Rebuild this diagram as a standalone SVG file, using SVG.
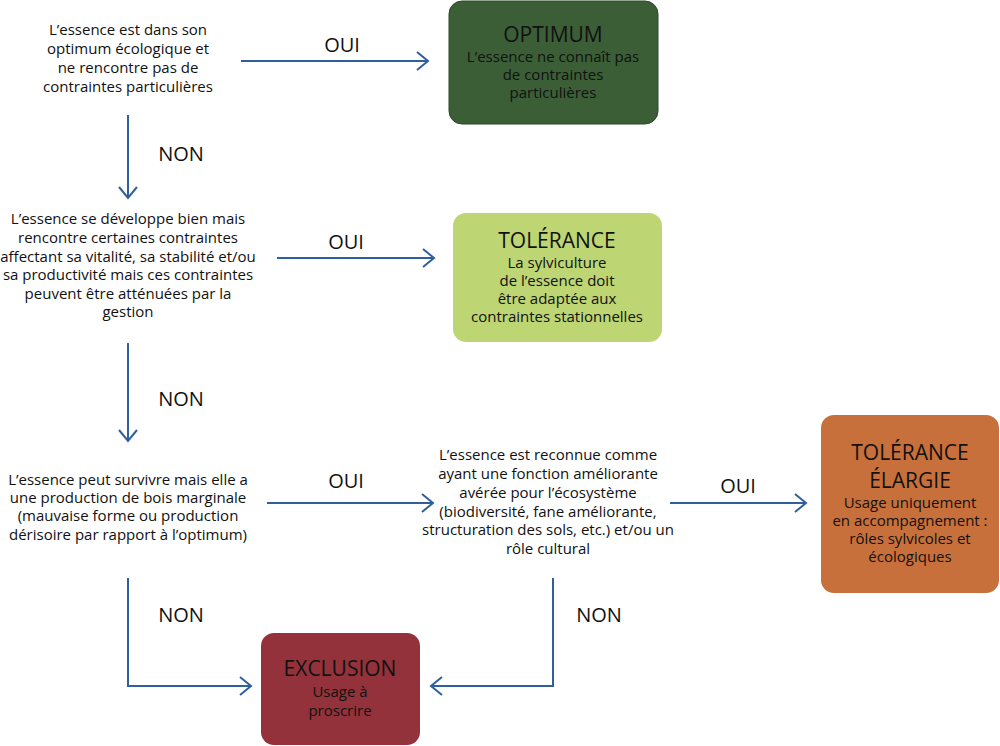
<svg xmlns="http://www.w3.org/2000/svg" width="1000" height="746" viewBox="0 0 1000 746">
<defs>
<marker id="arr" markerUnits="userSpaceOnUse" markerWidth="16" markerHeight="20" refX="12" refY="10" orient="auto">
<path d="M1,1 L12,10 L1,19" fill="none" stroke="#2f609c" stroke-width="2"/>
</marker>
<style>
text{font-family:"Open Sans","Noto Sans","Liberation Sans",sans-serif;fill:#111;text-anchor:middle}
.q{font-size:15px}
.lbl{font-size:20px}
.t{font-size:21px}
.s{font-size:15px}
.c{fill:none;stroke:#2f609c;stroke-width:2;marker-end:url(#arr)}
</style>
</defs>
<rect width="1000" height="746" fill="#fff"/>
<g id="q1">
<text class="q" x="128" y="35">L’essence est dans son</text>
<text class="q" x="128" y="54">optimum écologique et</text>
<text class="q" x="128" y="73">ne rencontre pas de</text>
<text class="q" x="128" y="92">contraintes particulières</text>
</g>
<g id="optimum">
<rect x="449" y="1" width="209" height="123" rx="13" fill="#3b5e36" stroke="#2c4a28" stroke-width="1"/>
<text class="t" x="553" y="42">OPTIMUM</text>
<text class="s" x="553" y="62">L’essence ne connaît pas</text>
<text class="s" x="553" y="80">de contraintes</text>
<text class="s" x="553" y="98">particulières</text>
</g>
<g id="q2">
<text class="q" x="128" y="224">L’essence se développe bien mais</text>
<text class="q" x="128" y="243">rencontre certaines contraintes</text>
<text class="q" x="128" y="262">affectant sa vitalité, sa stabilité et/ou</text>
<text class="q" x="128" y="280">sa productivité mais ces contraintes</text>
<text class="q" x="128" y="299">peuvent être atténuées par la</text>
<text class="q" x="128" y="317">gestion</text>
</g>
<g id="tolerance">
<rect x="453" y="213" width="209" height="129" rx="13" fill="#bed574"/>
<text class="t" x="557" y="248">TOLÉRANCE</text>
<text class="s" x="557" y="268">La sylviculture</text>
<text class="s" x="557" y="286">de l’essence doit</text>
<text class="s" x="557" y="304">être adaptée aux</text>
<text class="s" x="557" y="322">contraintes stationnelles</text>
</g>
<g id="q3">
<text class="q" x="128" y="485">L’essence peut survivre mais elle a</text>
<text class="q" x="128" y="503">une production de bois marginale</text>
<text class="q" x="128" y="521">(mauvaise forme ou production</text>
<text class="q" x="128" y="540">dérisoire par rapport à l’optimum)</text>
</g>
<g id="q4">
<text class="q" x="548" y="460">L’essence est reconnue comme</text>
<text class="q" x="548" y="479">ayant une fonction améliorante</text>
<text class="q" x="548" y="498">avérée pour l’écosystème</text>
<text class="q" x="548" y="517">(biodiversité, fane améliorante,</text>
<text class="q" x="548" y="535">structuration des sols, etc.) et/ou un</text>
<text class="q" x="548" y="554">rôle cultural</text>
</g>
<g id="elargie">
<rect x="821" y="415" width="178" height="178" rx="13" fill="#c8703b"/>
<text class="t" x="910" y="460">TOLÉRANCE</text>
<text class="t" x="910" y="488">ÉLARGIE</text>
<text class="s" x="910" y="508">Usage uniquement</text>
<text class="s" x="910" y="526">en accompagnement :</text>
<text class="s" x="910" y="544">rôles sylvicoles et</text>
<text class="s" x="910" y="562">écologiques</text>
</g>
<g id="exclusion">
<rect x="261" y="633" width="159" height="112" rx="13" fill="#93323a"/>
<text class="t" x="340" y="676">EXCLUSION</text>
<text class="s" x="340" y="697">Usage à</text>
<text class="s" x="340" y="716">proscrire</text>
</g>
<g id="connectors">
<path class="c" d="M241,61 H428"/>
<path class="c" d="M128,115 V198"/>
<path class="c" d="M277,258 H434"/>
<path class="c" d="M128,343 V441"/>
<path class="c" d="M267,503 H433"/>
<path class="c" d="M670,503 H806"/>
<path class="c" d="M128,578 V686 H251"/>
<path class="c" d="M553,578 V686 H431"/>
<text class="lbl" x="342" y="52">OUI</text>
<text class="lbl" x="346" y="249">OUI</text>
<text class="lbl" x="346" y="488">OUI</text>
<text class="lbl" x="738" y="493">OUI</text>
<text class="lbl" x="181" y="161">NON</text>
<text class="lbl" x="181" y="406">NON</text>
<text class="lbl" x="181" y="622">NON</text>
<text class="lbl" x="599" y="622">NON</text>
</g>
</svg>
